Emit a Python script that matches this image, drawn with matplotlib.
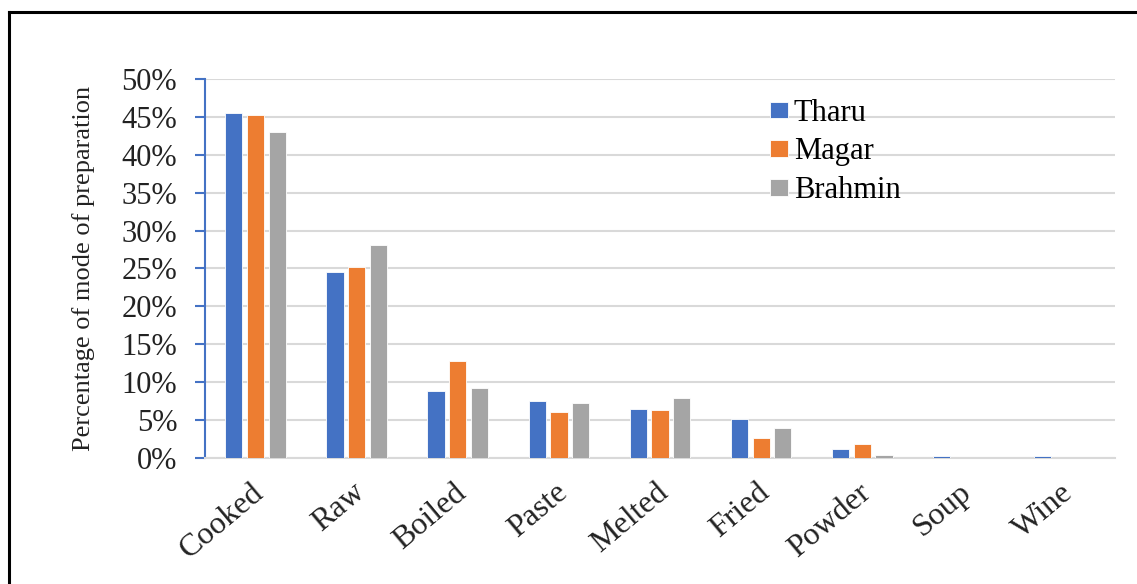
import matplotlib
matplotlib.use('Agg')
import matplotlib.pyplot as plt
from matplotlib.lines import Line2D
from matplotlib.ticker import PercentFormatter
import matplotlib.transforms as mtransforms
import numpy as np

categories = ['Cooked', 'Raw', 'Boiled', 'Paste', 'Melted', 'Fried', 'Powder', 'Soup', 'Wine']
tharu = [45.5, 24.6, 8.9, 7.5, 6.5, 5.1, 1.2, 0.2, 0.2]
magar = [45.2, 25.2, 12.8, 6.1, 6.3, 2.6, 1.8, 0.0, 0.0]
brahmin = [43.0, 28.1, 9.2, 7.2, 7.9, 4.0, 0.4, 0.0, 0.0]
series_names = ['Tharu', 'Magar', 'Brahmin']
colors = ['#4472c4', '#ed7d31', '#a5a5a5']

plt.rcParams['font.family'] = ['Liberation Serif', 'DejaVu Serif']

fig = plt.figure(figsize=(11.37, 5.84), dpi=100)
ax = fig.add_axes([0.1803, 0.2158, 0.8004, 0.6489])

x = np.arange(len(categories))
w = 0.17
step = 0.215
for i, (vals, name) in enumerate(zip([tharu, magar, brahmin], series_names)):
    ax.bar(x + (i - 1) * step, vals, w, color=colors[i], label=name,
           edgecolor='white', linewidth=0.6, zorder=3)

ax.set_xlim(-0.5, len(categories) - 0.5)
ax.set_ylim(0, 50)
ax.set_yticks(np.arange(0, 51, 5))
ax.yaxis.set_major_formatter(PercentFormatter(decimals=0))
ax.grid(axis='y', color='#d9d9d9', linewidth=1.5, zorder=0)
ax.set_axisbelow(True)

for s in ['top', 'right']:
    ax.spines[s].set_visible(False)
ax.spines['bottom'].set_color('#d9d9d9')
ax.spines['bottom'].set_linewidth(1.5)
ax.spines['left'].set_color('#4472c4')
ax.spines['left'].set_linewidth(1.5)

ax.tick_params(axis='y', colors='#4472c4', length=7, width=1.5, pad=13,
               labelsize=22, labelcolor='#222222')
ax.tick_params(axis='x', length=0, pad=0, labelsize=23, labelcolor='#222222')
ax.set_xticks(x)
ax.set_xticklabels(categories, rotation=40, ha='right', va='center',
                   rotation_mode='anchor')
offset = mtransforms.ScaledTranslation(0.05, -0.31, fig.dpi_scale_trans)
for lbl in ax.get_xticklabels():
    lbl.set_transform(lbl.get_transform() + offset)

ax.set_ylabel('Percentage of mode of preparation', fontsize=19, color='#222222')
ax.yaxis.set_label_coords(-0.121, 0.5)

ax.legend(loc='upper left', bbox_to_anchor=(0.621, 0.948), frameon=False,
          fontsize=22, handlelength=0.6, handleheight=0.45, handletextpad=0.18,
          labelspacing=0.32, borderaxespad=0, borderpad=0)

# figure frame (left and top edges visible)
fig.add_artist(Line2D([9 / 1137, 9 / 1137], [0, 1 - 12 / 584], transform=fig.transFigure,
                      color='black', linewidth=2.2))
fig.add_artist(Line2D([9 / 1137, 1], [1 - 12 / 584, 1 - 12 / 584], transform=fig.transFigure,
                      color='black', linewidth=2.2))

fig.savefig('out.png', dpi=100)
